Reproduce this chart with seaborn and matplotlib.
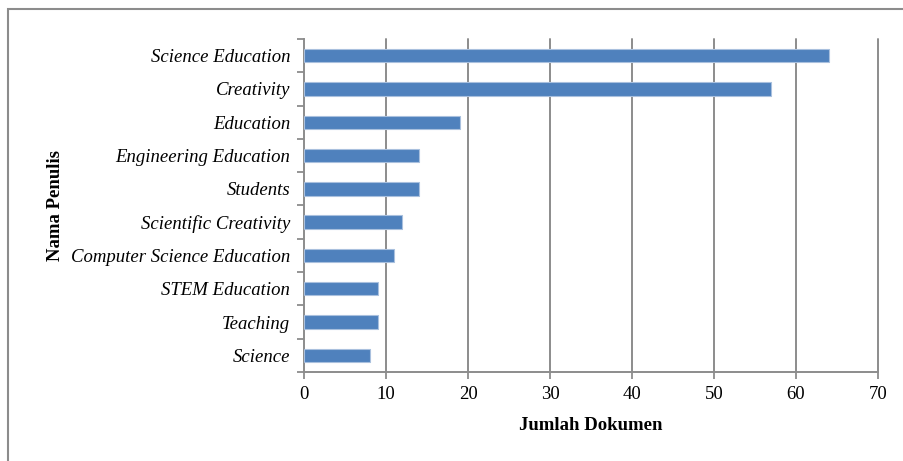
import matplotlib
matplotlib.use("Agg")
import matplotlib.pyplot as plt
import seaborn as sns
import numpy as np
import pandas as pd
from matplotlib.patches import Rectangle

keywords = ["Science Education", "Creativity", "Education", "Engineering Education",
            "Students", "Scientific Creativity", "Computer Science Education",
            "STEM Education", "Teaching", "Science"]
documents = [64, 57, 19, 14, 14, 12, 11, 9, 9, 8]
x_ticks = [0, 10, 20, 30, 40, 50, 60, 70]

df = pd.DataFrame({"keyword": keywords, "count": documents})

sns.set_theme(style="white")
plt.rcParams["font.family"] = ["Liberation Serif", "DejaVu Serif"]
plt.rcParams["text.color"] = "black"
plt.rcParams["xtick.color"] = "black"
plt.rcParams["ytick.color"] = "black"
plt.rcParams["axes.labelcolor"] = "black"

fig = plt.figure(figsize=(9.04, 4.61), dpi=100)
ax = fig.add_axes([0.3363, 0.1931, 0.9712 - 0.3363, 0.9154 - 0.1931])

grid_c = "#8c8c8c"
sns.barplot(data=df, x="count", y="keyword", orient="h", ax=ax,
            color="#4F81BD", edgecolor="#a9c0de", linewidth=0.8, width=0.4,
            saturation=1, zorder=3)

ax.set_xlim(0, 70)
ax.set_ylim(len(keywords) - 0.5, -0.5)
ax.set_xticks(x_ticks)
ax.set_xticklabels([str(t) for t in x_ticks], fontsize=13.5)
for t in x_ticks[1:]:
    ax.axvline(t, color=grid_c, lw=1.4, zorder=1, clip_on=False)

ax.set_yticks(range(len(keywords)))
ax.set_yticklabels(keywords, fontsize=13.5, style="italic")
ax.set_yticks(np.arange(-0.5, len(keywords)), minor=True)
ax.tick_params(axis="y", which="major", length=0, pad=10)
ax.tick_params(axis="y", which="minor", length=5, width=1.3, color=grid_c, left=True)
ax.tick_params(axis="x", which="major", length=5, width=1.3, color=grid_c, bottom=True,
               pad=5, labelcolor="black")
ax.tick_params(axis="y", labelcolor="black")

for side in ["top", "right"]:
    ax.spines[side].set_visible(False)
for side in ["left", "bottom"]:
    ax.spines[side].set_color(grid_c)
    ax.spines[side].set_linewidth(1.4)

ax.set_xlabel("Jumlah Dokumen", fontsize=13.5, fontweight="bold", labelpad=10)
ax.set_ylabel("Nama Penulis", fontsize=13.5, fontweight="bold", labelpad=0)
ax.yaxis.set_label_coords(-0.419, 0.5)

# outer frame of the chart area
fig.patches.append(Rectangle((8 / 904, -0.1), 1.2, 1.1 - 9 / 461,
                             transform=fig.transFigure, fill=False,
                             edgecolor="#8c8c8c", lw=1.5))

fig.savefig("out.png", dpi=100)
